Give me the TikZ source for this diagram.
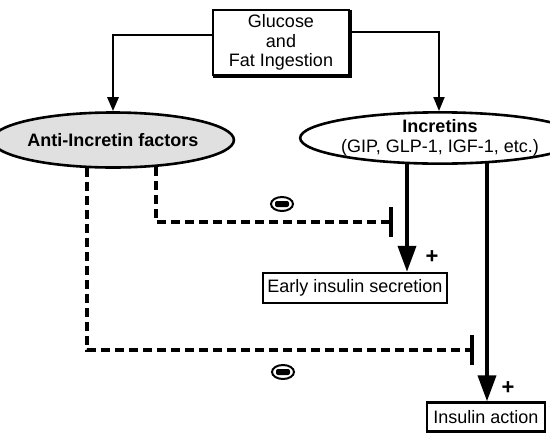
\documentclass[tikz,border=0pt]{standalone}
\usepackage{fontspec}
\setmainfont{Liberation Sans}
\usetikzlibrary{arrows.meta,shapes.geometric}

\tikzset{
	txt/.style={font=\fontsize{18}{19.5}\selectfont, inner sep=0pt},
	box/.style={txt, draw, line width=2.4pt, fill=white, align=center},
	oval/.style={txt, draw, ellipse, line width=2.6pt, align=center},
	heavy/.style={line width=3.8pt, -{Triangle[width=18pt,length=26pt]}},
	block/.style={line width=3.6pt, dash pattern=on 9pt off 5pt, -{Bar[width=30pt,line width=3.8pt]}},
	minussign/.style={draw, ellipse, line width=2pt, minimum width=22pt, minimum height=14pt, inner sep=0pt,
		path picture={\fill[rounded corners=2pt] ([xshift=-7pt,yshift=-3pt]path picture bounding box.center) rectangle ([xshift=7pt,yshift=3pt]path picture bounding box.center);}},
	plussign/.style={txt, font=\fontsize{22}{22}\selectfont\bfseries}
}

\begin{document}
\begin{tikzpicture}[x=1pt, y=-1pt]
		%%%%% START %%%%%
		\useasboundingbox (0, 0) rectangle (550, 432);
		
		\node[box, minimum width=136pt, minimum height=65pt] (glucose) at (281, 42.5) {Glucose\\and\\Fat Ingestion};
		\draw[line width=2pt] ([xshift=1.2pt,yshift=-1.2pt]glucose.north east) -- ([xshift=1.2pt,yshift=-1.2pt]glucose.south east) -- ([xshift=1.2pt,yshift=-1.2pt]glucose.south west);
		
		\node[oval, fill=black!12, minimum width=203pt, minimum height=55pt] (anti) at (113, 140) {\bfseries Anti-Incretin factors};
		\node[oval, fill=white, minimum width=218pt, minimum height=50pt] (incretins) at (440, 138) {\bfseries Incretins\\(GIP, GLP-1, IGF-1, etc.)};
		
		\node[box, minimum width=184pt, minimum height=30pt] (early) at (355, 288) {Early insulin secretion};
		\node[box, minimum width=118pt, minimum height=29pt] (action) at (486, 417) {Insulin action};
		
		\draw[line width=2.8pt, -{Triangle[width=11pt,length=14pt]}] ([yshift=7.5pt]glucose.west) -| (anti.north);
		\draw[line width=1.8pt, -{Triangle[width=11pt,length=14pt]}] ([yshift=10.5pt]glucose.east) -| ([xshift=-1pt]incretins.north);
		
		\draw[heavy] ([xshift=-33pt,yshift=2pt]incretins.south) -- ([xshift=-33pt]incretins.south |- early.north);
		\draw[heavy] ([xshift=47pt,yshift=3pt]incretins.south) -- ([xshift=47pt]incretins.south |- action.north);
		
		\coordinate (stop1) at (393, 222);
		\coordinate (stop2) at (474, 350);
		\draw[block] ([xshift=43pt,yshift=2pt]anti.south) |- (stop1);
		\draw[block] ([xshift=-26pt,yshift=1pt]anti.south) |- (stop2);
		
		\node[minussign] (minus1) at (282, 204) {};
		\node[minussign] (minus2) at (283, 372) {};
		
		\node[plussign] (plus1) at (432, 257) {+};
		\node[plussign] (plus2) at (508, 388) {+};
		
		%%%%% END %%%%%
	\end{tikzpicture}
\end{document}
